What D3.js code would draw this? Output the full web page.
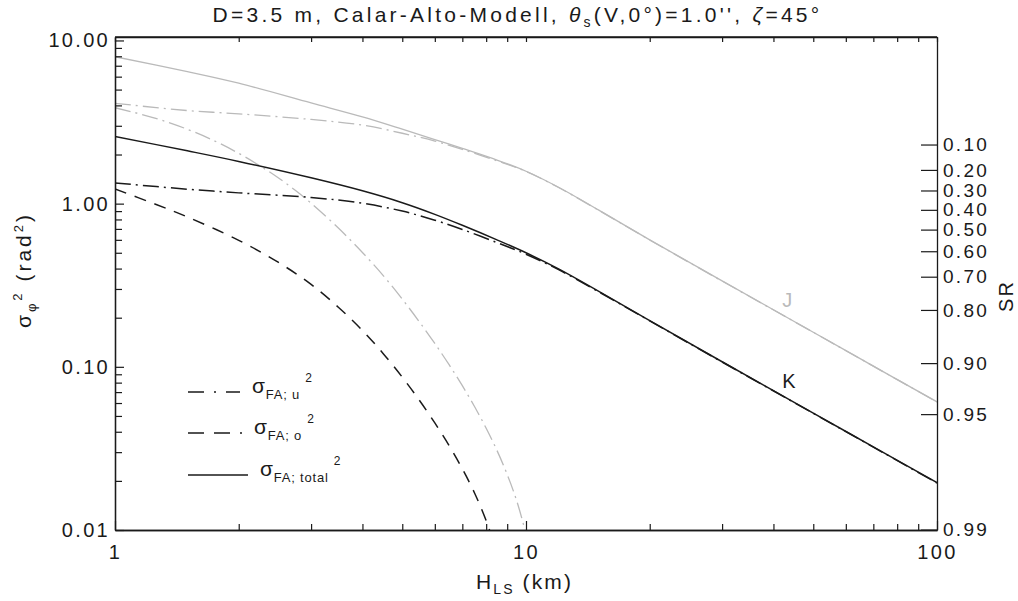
<!DOCTYPE html>
<html>
<head>
<meta charset="utf-8">
<script src="https://cdn.jsdelivr.net/npm/d3@7"></script>
<style>
body { margin: 0; background: #fff; }
text { font-family: "Liberation Sans", Arial, sans-serif; }
</style>
</head>
<body>
<svg id="chart" width="1018" height="601"></svg>
<script>
// H_LS grid for the curves running over the whole range (km)
const hFull = [1, 1.5, 2, 3, 4, 5, 6, 7, 8.5, 10, 12, 15, 20, 30, 50, 70, 100];
// K band
const kTotal = [2.58, 2.107, 1.814, 1.439, 1.198, 1.013, 0.86, 0.737, 0.60, 0.50, 0.398, 0.291, 0.192, 0.1074, 0.052, 0.0323, 0.0195];
const kU = [1.34, 1.226, 1.164, 1.091, 1.006, 0.90, 0.792, 0.695, 0.577, 0.49, 0.394, 0.289, 0.1912, 0.1071, 0.0519, 0.0322, 0.0194];
// J band
const jTotal = [7.95, 6.44, 5.47, 4.14, 3.40, 2.86, 2.47, 2.18, 1.85, 1.58, 1.26, 0.915, 0.60, 0.336, 0.163, 0.101, 0.061];
const jU = [4.12, 3.72, 3.55, 3.28, 3.03, 2.70, 2.42, 2.15, 1.83, 1.575, 1.255, 0.913, 0.599, 0.3355, 0.1628, 0.1009, 0.0609];
// steep "o" parts, they leave the plot at the bottom
const hKo = [1, 1.25, 1.5, 2, 2.5, 3, 3.5, 4, 4.5, 5, 5.5, 6, 6.5, 7, 7.5, 8, 8.5];
const kO = [1.23, 0.995, 0.829, 0.596, 0.436, 0.320, 0.231, 0.167, 0.120, 0.0864, 0.0625, 0.0453, 0.0329, 0.0237, 0.0168, 0.0114, 0.0073];
const hJo = [1, 1.25, 1.5, 1.75, 2, 2.25, 2.5, 2.75, 3, 3.5, 4, 4.5, 5, 5.5, 6, 6.5, 7, 7.5, 8, 8.5, 9, 9.5, 10, 10.5];
const jO = [3.87, 3.347, 2.856, 2.418, 2.033, 1.708, 1.435, 1.203, 1.006, 0.706, 0.502, 0.361, 0.260, 0.189, 0.139, 0.103, 0.0766, 0.0569, 0.042, 0.0307, 0.0219, 0.015, 0.0094, 0.0055];
// axes
const xMajor = [1, 10, 100];
const yMajor = [0.01, 0.1, 1, 10];
const srTicks = [0.10, 0.20, 0.30, 0.40, 0.50, 0.60, 0.70, 0.80, 0.90, 0.95, 0.99];
const legendNames = ["FA; u", "FA; o", "FA; total"];

const margin = {left: 115, right: 81, top: 37, bottom: 71};
const width = 1018, height = 601;
const svg = d3.select("#chart");

const x = d3.scaleLog().domain([1, 100]).range([margin.left, width - margin.right]);
const y = d3.scaleLog().domain([0.01, 10.5]).range([height - margin.bottom, margin.top]);

const minors = (majors) => d3.merge(majors.slice(0, -1).map(m => d3.range(2, 10).map(k => k * m)));

const ink = "#1a1a1a";
const grey = "#bababa";

// rich text helper: pieces with sub / superscript offsets
function rich(sel, parts) {
	let off = 0;
	parts.forEach(p => {
		const shift = p.shift || 0;
		const ts = sel.append("tspan").text(p.t).attr("dy", shift - off);
		if (p.size) ts.attr("font-size", p.size);
		if (p.dx) ts.attr("dx", p.dx);
		if (p.italic) ts.attr("font-style", "italic");
		off = shift;
	});
}

// stretch a text to a given span [x0, x1] by letter spacing, then place it there
function fitSpan(sel, x0, x1, chars) {
	let bb = sel.node().getBBox();
	const ls = +sel.attr("letter-spacing") + ((x1 - x0) - bb.width) / chars;
	sel.attr("letter-spacing", ls);
	bb = sel.node().getBBox();
	sel.attr("x", +sel.attr("x") + (x0 + x1) / 2 - (bb.x + bb.width / 2));
}

svg.append("defs").append("clipPath").attr("id", "plotclip")
	.append("rect")
	.attr("x", margin.left).attr("y", margin.top)
	.attr("width", width - margin.left - margin.right)
	.attr("height", height - margin.top - margin.bottom);

//Curves
const line = d3.line().x(d => x(d[0])).y(d => y(d[1])).curve(d3.curveCatmullRom.alpha(0.5));
const curves = [
	{h: hFull, v: jTotal, color: grey, dash: null, w: 1.3},
	{h: hFull, v: jU, color: grey, dash: "16,5,2,5", w: 1.3},
	{h: hJo, v: jO, color: grey, dash: "16,5,2,5", w: 1.3},
	{h: hFull, v: kTotal, color: ink, dash: null, w: 1.5},
	{h: hFull, v: kU, color: ink, dash: "16,5,2,5", w: 1.5},
	{h: hKo, v: kO, color: ink, dash: "12,9", w: 1.5}
];
svg.append("g").attr("clip-path", "url(#plotclip)")
	.selectAll("path")
	.data(curves)
	.join("path")
	.attr("d", c => line(c.h.map((h, i) => [h, c.v[i]])))
	.attr("fill", "none")
	.attr("stroke", c => c.color)
	.attr("stroke-width", c => c.w)
	.attr("stroke-dasharray", c => c.dash);

//Axes, ticks pointing inward
function styleAxis(g, size = 20) {
	g.select(".domain").attr("stroke", ink).attr("stroke-width", 1.3);
	g.selectAll(".tick line").attr("stroke", ink).attr("stroke-width", 1.2);
	g.selectAll("text").attr("font-size", size).attr("fill", ink).attr("letter-spacing", 2.3);
}
const bottom = height - margin.bottom;
const right = width - margin.right;

svg.append("g").attr("transform", `translate(0,${bottom})`)
	.call(d3.axisBottom(x).tickValues(xMajor).tickSizeInner(-9).tickSizeOuter(0).tickPadding(15).tickFormat(d3.format("d")))
	.call(styleAxis);
svg.append("g").attr("transform", `translate(0,${bottom})`)
	.call(d3.axisBottom(x).tickValues(minors(xMajor)).tickSizeInner(-6).tickSizeOuter(0).tickFormat(""))
	.call(styleAxis);
svg.append("g").attr("transform", `translate(0,${margin.top})`)
	.call(d3.axisTop(x).tickValues(xMajor.concat(minors(xMajor))).tickSizeInner(-5).tickSizeOuter(0).tickFormat(""))
	.call(styleAxis);

svg.append("g").attr("transform", `translate(${margin.left},0)`)
	.call(d3.axisLeft(y).tickValues(yMajor).tickSizeInner(-9).tickSizeOuter(0).tickPadding(5).tickFormat(d3.format(".2f")))
	.call(styleAxis);
svg.append("g").attr("transform", `translate(${margin.left},0)`)
	.call(d3.axisLeft(y).tickValues(minors(yMajor)).tickSizeInner(-7).tickSizeOuter(0).tickFormat(""))
	.call(styleAxis);

// right axis: Strehl ratio SR = exp(-sigma^2)
svg.append("g").attr("transform", `translate(${right},0)`)
	.call(d3.axisRight(y).tickValues(srTicks.map(s => -Math.log(s))).tickSizeInner(-16).tickSizeOuter(0).tickPadding(6)
		.tickFormat((d, i) => d3.format(".2f")(srTicks[i])))
	.call(g => styleAxis(g, 19));

// close the frame
svg.append("line").attr("x1", margin.left).attr("x2", right).attr("y1", margin.top).attr("y2", margin.top)
	.attr("stroke", ink).attr("stroke-width", 1.3);

//Title
const title = svg.append("text")
	.attr("x", 0).attr("y", 22)
	.attr("font-size", 21).attr("fill", ink).attr("letter-spacing", 2.8);
rich(title, [
	{t: "D=3.5 m, Calar-Alto-Modell, "},
	{t: "θ", italic: true},
	{t: "s", size: 14, shift: 5},
	{t: "(V,0°)=1.0'', "},
	{t: "ζ", italic: true},
	{t: "=45°"}
]);
fitSpan(title, 213, 822, 47);

//Axis titles
const xTitle = svg.append("text")
	.attr("x", 0).attr("y", 589)
	.attr("font-size", 21).attr("fill", ink).attr("letter-spacing", 2.6);
rich(xTitle, [{t: "H"}, {t: "LS", size: 14, shift: 5}, {t: " (km)"}]);
fitSpan(xTitle, 476, 573, 8);

const yTitle = svg.append("text")
	.attr("transform", "translate(31,270) rotate(-90)")
	.attr("text-anchor", "middle").attr("font-size", 21).attr("fill", ink).attr("letter-spacing", 3);
rich(yTitle, [
	{t: "σ"}, {t: "φ", size: 13, shift: 5}, {t: "2", size: 13, shift: -9},
	{t: " (rad"}, {t: "2", size: 13, shift: -8}, {t: ")"}
]);

svg.append("text")
	.attr("transform", "translate(1013,296) rotate(-90)")
	.attr("text-anchor", "middle").attr("font-size", 20).attr("fill", ink).attr("letter-spacing", 2)
	.text("SR");

//Curve labels
svg.append("text").attr("x", x(42)).attr("y", 307).attr("font-size", 20).attr("fill", grey).text("J");
svg.append("text").attr("x", x(42)).attr("y", 388).attr("font-size", 20).attr("fill", ink).text("K");

//Legend
const legendDash = ["16,10,2,10", "16,10", null];
const legendLen = [52, 54, 60];
const legendRows = [392, 433, 475];
const legend = svg.append("g")
	.selectAll("g")
	.data(legendNames)
	.join("g")
	.attr("transform", (d, i) => `translate(188,${legendRows[i]})`);
legend.append("line")
	.attr("x2", (d, i) => legendLen[i])
	.attr("stroke", ink).attr("stroke-width", 1.4)
	.attr("stroke-dasharray", (d, i) => legendDash[i]);
legend.append("text")
	.attr("x", (d, i) => legendLen[i] + 12)
	.attr("y", 1)
	.attr("font-size", 21).attr("fill", ink)
	.attr("letter-spacing", 0.8)
	.each(function (d) {
		rich(d3.select(this), [
			{t: "σ"},
			{t: d, size: 13, shift: 6},
			{t: "2", size: 12, shift: -11, dx: 5}
		]);
	});
</script>
</body>
</html>
